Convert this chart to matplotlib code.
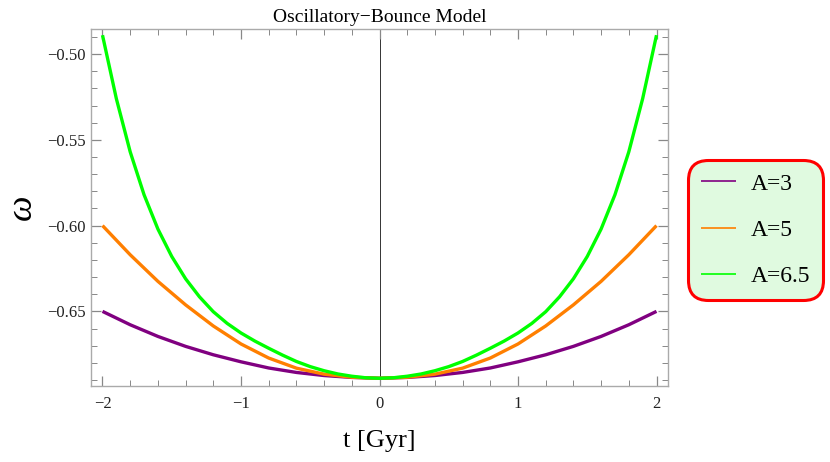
import matplotlib
matplotlib.use("Agg")
import matplotlib.pyplot as plt
from matplotlib.ticker import MultipleLocator, FuncFormatter

plt.rcParams['font.family'] = ['Liberation Serif', 'DejaVu Serif']

# values (curves are symmetric about t=0)
t = [-2.0, -1.8, -1.6, -1.4, -1.2, -1.0, -0.8, -0.6, -0.4, -0.2, 0.0,
     0.2, 0.4, 0.6, 0.8, 1.0, 1.2, 1.4, 1.6, 1.8, 2.0]
w_a3 = [-0.650, -0.6578, -0.6646, -0.6704, -0.6753, -0.6794, -0.6830, -0.6856, -0.6874, -0.6885, -0.689,
        -0.6885, -0.6874, -0.6856, -0.6830, -0.6794, -0.6753, -0.6704, -0.6646, -0.6578, -0.650]
w_a5 = [-0.600, -0.617, -0.6325, -0.6462, -0.6585, -0.669, -0.6772, -0.6831, -0.6866, -0.6884, -0.689,
        -0.6884, -0.6866, -0.6831, -0.6772, -0.669, -0.6585, -0.6462, -0.6325, -0.617, -0.600]
t_g = [-2.0, -1.9, -1.8, -1.7, -1.6, -1.5, -1.4, -1.3, -1.2, -1.1, -1.0, -0.9, -0.8, -0.7, -0.6,
       -0.5, -0.4, -0.3, -0.2, -0.1, 0.0, 0.1, 0.2, 0.3, 0.4, 0.5, 0.6, 0.7, 0.8, 0.9, 1.0,
       1.1, 1.2, 1.3, 1.4, 1.5, 1.6, 1.7, 1.8, 1.9, 2.0]
w_a65 = [-0.489, -0.526, -0.557, -0.582, -0.602, -0.618, -0.631, -0.6415, -0.6502, -0.657, -0.6626,
         -0.6673, -0.6715, -0.6755, -0.6792, -0.6822, -0.6846, -0.6865, -0.6878, -0.6887, -0.689,
         -0.6887, -0.6878, -0.6865, -0.6846, -0.6822, -0.6792, -0.6755, -0.6715, -0.6673, -0.6626,
         -0.657, -0.6502, -0.6415, -0.631, -0.618, -0.602, -0.582, -0.557, -0.526, -0.489]

labels = ["A=3", "A=5", "A=6.5"]
colors = ["#800080", "#FF7F00", "#00FF00"]

fig = plt.figure(figsize=(8.3, 4.62), dpi=100)
ax = fig.add_axes([91/830, 1-386/462, (668-91)/830, (386-29)/462])

ax.plot(t, w_a3, color=colors[0], lw=2.4, label=labels[0], solid_capstyle='butt')
ax.plot(t, w_a5, color=colors[1], lw=2.4, label=labels[1], solid_capstyle='butt')
ax.plot(t_g, w_a65, color=colors[2], lw=2.4, label=labels[2], solid_capstyle='butt')
ax.axvline(0, color='#333333', lw=0.7, zorder=0)

ax.set_xlim(-2.083, 2.083)
ax.set_ylim(-0.6935, -0.4854)
ax.xaxis.set_major_locator(MultipleLocator(1))
ax.xaxis.set_minor_locator(MultipleLocator(0.2))
ax.yaxis.set_major_locator(MultipleLocator(0.05))
ax.yaxis.set_minor_locator(MultipleLocator(0.01))
ax.yaxis.set_major_formatter(FuncFormatter(lambda v, p: ('%.2f' % v).replace('-', '\u2212')))
ax.xaxis.set_major_formatter(FuncFormatter(lambda v, p: ('%d' % round(v)).replace('-', '\u2212')))

for s in ax.spines.values():
    s.set_color('#aaaaaa')
    s.set_linewidth(1.0)
ax.tick_params(which='both', direction='in', top=True, right=True, color='#888888',
               labelsize=12, labelcolor='#222222')
ax.tick_params(which='major', length=7, width=0.9)
ax.tick_params(which='minor', length=4, width=0.7)
ax.tick_params(axis='x', pad=7)
ax.tick_params(axis='y', pad=4)

ax.set_title("Oscillatory\u2212Bounce Model", fontsize=14, pad=5)
ax.set_xlabel("t [Gyr]", fontsize=19, labelpad=13)
ax.set_ylabel("\u03c9", fontsize=26, style='italic', labelpad=6)

leg = ax.legend(loc='upper left', bbox_to_anchor=(688/830, 1-160/462),
                bbox_transform=fig.transFigure, borderaxespad=0, fontsize=17,
                handlelength=1.5, labelspacing=1.05, borderpad=0.55, handletextpad=0.6,
                fancybox=True)
fr = leg.get_frame()
fr.set_edgecolor('#FF0000')
fr.set_linewidth(2.2)
fr.set_facecolor('#E0FAE0')
fr.set_alpha(1)
fr.set_boxstyle('round,pad=0,rounding_size=0.85')
for ln in leg.get_lines():
    ln.set_linewidth(1.2)

fig.savefig('out.png', dpi=100)
